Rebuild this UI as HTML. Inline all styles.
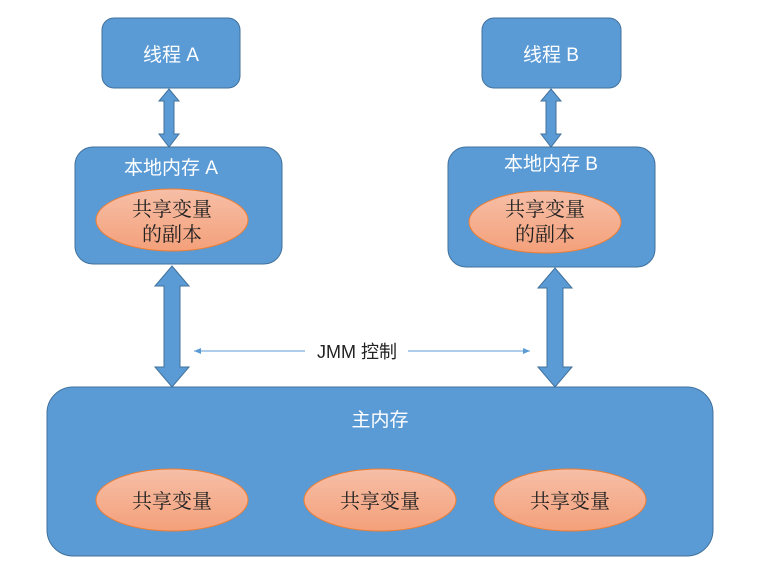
<!DOCTYPE html>
<html><head><meta charset="utf-8"><style>
html,body{margin:0;padding:0;background:#fff;}
text{font-family:"Liberation Sans","Noto Sans CJK SC",sans-serif;}
.s{font-family:"Liberation Serif","Noto Serif CJK SC",serif;}
</style></head><body>
<svg width="773" height="576" viewBox="0 0 773 576" xmlns="http://www.w3.org/2000/svg">
<defs>
<linearGradient id="g" x1="0" y1="0" x2="0" y2="1">
<stop offset="0" stop-color="#f6bfa7"/><stop offset="1" stop-color="#f4a07a"/>
</linearGradient>
<marker id="ah" markerWidth="8" markerHeight="8" refX="7" refY="4" orient="auto" markerUnits="userSpaceOnUse">
<path d="M0,1 L7,4 L0,7 Z" fill="#5b9bd5"/></marker>
</defs>
<g fill="#5b9bd5" stroke="#41719c" stroke-width="1">
<rect x="102" y="18" width="138" height="70" rx="12"/>
<rect x="482" y="18" width="139" height="70" rx="12"/>
<rect x="75" y="147" width="207" height="117" rx="18"/>
<rect x="448" y="147" width="207" height="120" rx="18"/>
<rect x="47" y="387" width="666" height="169" rx="26"/>
<path d="M169,89 L179,101 L174,101 L174,134 L179,134 L169,147 L159,134 L164,134 L164,101 L159,101 Z"/>
<path d="M551,89 L561,101 L556,101 L556,134 L561,134 L551,147 L541,134 L546,134 L546,101 L541,101 Z"/>
<path d="M172,266 L189,286 L180,286 L180,367 L189,367 L172,387 L155,367 L164,367 L164,286 L155,286 Z"/>
<path d="M555,268 L572,288 L563,288 L563,367 L572,367 L555,387 L538,367 L547,367 L547,288 L538,288 Z"/>
</g>
<g fill="url(#g)" stroke="#ed7d31" stroke-width="1">
<ellipse cx="172" cy="220" rx="76" ry="31"/>
<ellipse cx="545" cy="222" rx="76" ry="31"/>
<ellipse cx="172" cy="500" rx="76" ry="31"/>
<ellipse cx="380" cy="500" rx="76" ry="31"/>
<ellipse cx="570" cy="500" rx="76" ry="31"/>
</g>
<g stroke="#5b9bd5" stroke-width="1">
<line x1="305" y1="351" x2="194" y2="351" marker-end="url(#ah)"/>
<line x1="408" y1="351" x2="530" y2="351" marker-end="url(#ah)"/>
</g>
<g fill="#fff" font-size="19" text-anchor="middle">
<text x="171" y="61">线程 A</text>
<text x="551" y="61">线程 B</text>
<text x="171" y="174">本地内存 A</text>
<text x="551" y="170">本地内存 B</text>
<text x="380" y="426">主内存</text>
</g>
<g fill="#222" font-size="20" text-anchor="middle" class="s">
<text class="s" x="172" y="216">共享变量</text>
<text class="s" x="172" y="241">的副本</text>
<text class="s" x="545" y="216">共享变量</text>
<text class="s" x="545" y="241">的副本</text>
<text class="s" x="172" y="508">共享变量</text>
<text class="s" x="380" y="508">共享变量</text>
<text class="s" x="570" y="508">共享变量</text>
</g>
<text x="357" y="358" fill="#222" font-size="18" text-anchor="middle">JMM 控制</text>
</svg>
</body></html>
